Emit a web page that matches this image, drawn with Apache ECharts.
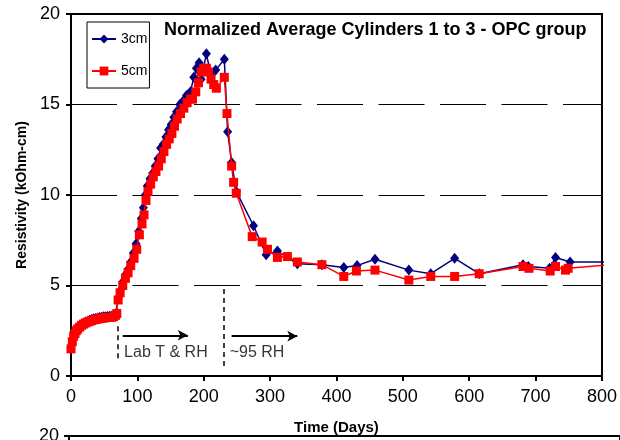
<!DOCTYPE html>
<html>
<head>
<meta charset="utf-8">
<script src="https://cdn.jsdelivr.net/npm/echarts@6/dist/echarts.min.js"></script>
<style>
  html, body { margin: 0; padding: 0; background: #fff; }
  #chart { width: 620px; height: 440px; }
</style>
</head>
<body>
<div id="chart"></div>
<script>
// 3cm readings (days, kOhm-cm)
var days3 = [0, 2, 4, 6, 8, 10, 13, 16, 19, 22, 25, 28, 31, 34, 37, 40, 43, 46, 49, 52, 55, 58, 61, 64, 67, 69,
  71, 74, 78, 82, 86, 90, 94, 98, 102, 106, 109, 112, 115, 119, 123, 127, 131, 135, 139, 143, 147, 151, 155, 159,
  164, 169, 174, 180, 185, 189, 193, 196, 204, 211, 218, 231, 236, 242, 249, 275, 294, 311, 341, 378, 411, 431,
  458, 509, 542, 578, 615, 681, 689, 721, 730, 752, 830];
var cm3 = [1.55, 1.95, 2.25, 2.4, 2.55, 2.65, 2.75, 2.85, 2.92, 2.98, 3.03, 3.08, 3.12, 3.16, 3.18, 3.21, 3.23, 3.25, 3.27, 3.28, 3.29, 3.3, 3.31, 3.33, 3.4, 3.5,
  4.3, 4.7, 5.2, 5.6, 5.9, 6.3, 6.8, 7.3, 8.0, 8.7, 9.3, 10.0, 10.5, 10.9, 11.2, 11.6, 12.0, 12.6, 12.8, 13.2, 13.6, 13.9, 14.3, 14.6,
  15.0, 15.2, 15.5, 15.7, 16.5, 17.0, 17.3, 16.4, 17.8, 16.6, 16.9, 17.5, 13.5, 11.8, 10.2, 8.3, 6.7, 6.9, 6.2, 6.15, 6.0, 6.1,
  6.45, 5.85, 5.65, 6.5, 5.65, 6.15, 6.05, 5.95, 6.55, 6.3, 6.3];

// 5cm readings
var days5 = [0, 2, 4, 6, 8, 10, 13, 16, 19, 22, 25, 28, 31, 34, 37, 40, 43, 46, 49, 52, 55, 58, 61, 64, 67, 69,
  71, 74, 78, 82, 86, 90, 95, 99, 103, 107, 110, 113, 116, 120, 124, 128, 132, 136, 140, 144, 148, 152, 156, 160,
  165, 170, 175, 180, 183, 188, 192, 196, 200, 204, 207, 211, 215, 219, 231, 235, 242, 245, 249, 273, 288, 296,
  311, 326, 341, 378, 411, 430, 458, 509, 542, 578, 615, 681, 690, 722, 730, 745, 749, 830];
var cm5 = [1.5, 1.9, 2.2, 2.35, 2.5, 2.6, 2.7, 2.8, 2.87, 2.93, 2.98, 3.02, 3.06, 3.1, 3.12, 3.15, 3.17, 3.19, 3.21, 3.22, 3.23, 3.24, 3.25, 3.27, 3.35, 3.45,
  4.2, 4.6, 5.0, 5.4, 5.7, 6.1, 6.5, 7.0, 7.8, 8.4, 8.9, 9.7, 10.2, 10.6, 11.0, 11.3, 11.6, 12.0, 12.4, 12.8, 13.1, 13.4, 13.8, 14.2,
  14.5, 14.8, 15.1, 15.3, 15.3, 15.7, 16.2, 16.8, 17.0, 17.0, 16.8, 16.4, 16.1, 15.9, 16.5, 14.5, 11.6, 10.7, 10.1, 7.7, 7.4, 7.0,
  6.55, 6.6, 6.3, 6.15, 5.5, 5.8, 5.85, 5.3, 5.5, 5.5, 5.65, 6.05, 5.95, 5.8, 6.05, 5.85, 5.95, 6.2];

var xTicks = [0, 100, 200, 300, 400, 500, 600, 700, 800];
var yTicks = [0, 5, 10, 15, 20];

// phase notes
var notes = [[77, 1.3, 'Lab T & RH'], [236, 1.3, '~95 RH']];
var phaseDays = [70, 230];

var font = '"Liberation Sans", Arial, sans-serif';

function pairs(xs, ys) {
  var out = [];
  for (var i = 0; i < xs.length; i++) out.push([xs[i], ys[i]]);
  return out;
}

var chart = echarts.init(document.getElementById('chart'));

var option = {
  animation: false,
  backgroundColor: '#fff',
  textStyle: { fontFamily: font, color: '#000' },
  title: {
    text: 'Normalized Average Cylinders 1 to 3 - OPC group',
    left: 159, top: 16,
    textStyle: { fontFamily: font, fontSize: 18, fontWeight: 'bold', color: '#000' }
  },
  legend: {
    orient: 'vertical',
    left: 87, top: 22,
    padding: [10, 2, 10, 4],
    itemGap: 18,
    itemWidth: 24, itemHeight: 11,
    borderColor: '#000', borderWidth: 1,
    textStyle: { fontFamily: font, fontSize: 14, color: '#000' },
    data: ['3cm', '5cm']
  },
  grid: [
    { left: 71, right: 16, top: 14, bottom: 63, show: true, borderColor: '#000', borderWidth: 2 },
    { left: 69, right: -20, top: 436, height: 363, show: true, borderColor: '#000', borderWidth: 2 }
  ],
  xAxis: [{
    type: 'value', min: 0, max: 800, interval: 100,
    name: 'Time (Days)', nameLocation: 'middle', nameGap: 44,
    nameTextStyle: { fontFamily: font, fontSize: 15, fontWeight: 'bold', color: '#000' },
    axisLine: { lineStyle: { color: '#000', width: 2 } },
    axisTick: { inside: false, length: 5, lineStyle: { color: '#000', width: 2 } },
    axisLabel: { fontFamily: font, fontSize: 18, color: '#000', margin: 12,
      formatter: function (v) { return xTicks.indexOf(v) >= 0 ? String(v) : ''; } },
    splitLine: { show: false }
  }, {
    gridIndex: 1, type: 'value', min: 0, max: 800, show: false
  }],
  yAxis: [{
    type: 'value', min: 0, max: 20, interval: 5,
    name: 'Resistivity (kOhm-cm)', nameLocation: 'middle', nameGap: 41,
    nameTextStyle: { fontFamily: font, fontSize: 14, fontWeight: 'bold', color: '#000' },
    axisLine: { show: true, lineStyle: { color: '#000', width: 2 } },
    axisTick: { show: true, inside: false, length: 5, lineStyle: { color: '#000', width: 2 } },
    axisLabel: { fontFamily: font, fontSize: 18, color: '#000', margin: 11,
      formatter: function (v) { return yTicks.indexOf(v) >= 0 ? String(v) : ''; } },
    splitLine: { show: true, lineStyle: { color: '#000', width: 1, type: [46, 15.5] } }
  }, {
    gridIndex: 1, type: 'value', min: 0, max: 20, interval: 5,
    axisLine: { show: true, lineStyle: { color: '#000', width: 2 } },
    axisTick: { show: true, length: 5, lineStyle: { color: '#000', width: 2 } },
    axisLabel: { fontFamily: font, fontSize: 18, color: '#000', margin: 10 },
    splitLine: { show: false }
  }],
  series: [
    {
      name: '3cm', type: 'line',
      data: pairs(days3, cm3),
      symbol: 'diamond', symbolSize: [9, 11],
      itemStyle: { color: '#000080' },
      lineStyle: { color: '#000080', width: 1.5 },
      z: 2
    },
    {
      name: '5cm', type: 'line',
      data: pairs(days5, cm5),
      symbol: 'rect', symbolSize: 9,
      itemStyle: { color: '#ff0000' },
      lineStyle: { color: '#ff0000', width: 1.5 },
      z: 3
    },
    {
      name: 'notes', type: 'scatter',
      data: notes,
      symbolSize: 0,
      silent: true,
      label: {
        show: true, position: 'right', distance: 2,
        fontFamily: font, fontSize: 16, color: '#000',
        formatter: function (p) { return p.value[2]; }
      },
      markLine: {
        silent: true,
        symbol: ['none', 'none'],
        label: { show: false },
        lineStyle: { color: '#000', width: 1.5, type: [5, 4] },
        data: [
          [{ coord: [phaseDays[0], 2.75] }, { coord: [phaseDays[0], 0.95] }],
          [{ coord: [phaseDays[1], 4.8] }, { coord: [phaseDays[1], 0.5] }],
          [{ coord: [78, 2.25], lineStyle: { type: 'solid', width: 2 } },
           { coord: [176, 2.25], symbol: 'arrow', symbolSize: [8, 10] }],
          [{ coord: [242, 2.2], lineStyle: { type: 'solid', width: 2 } },
           { coord: [341, 2.2], symbol: 'arrow', symbolSize: [8, 10] }]
        ]
      }
    }
  ]
};

chart.setOption(option);
</script>
</body>
</html>
